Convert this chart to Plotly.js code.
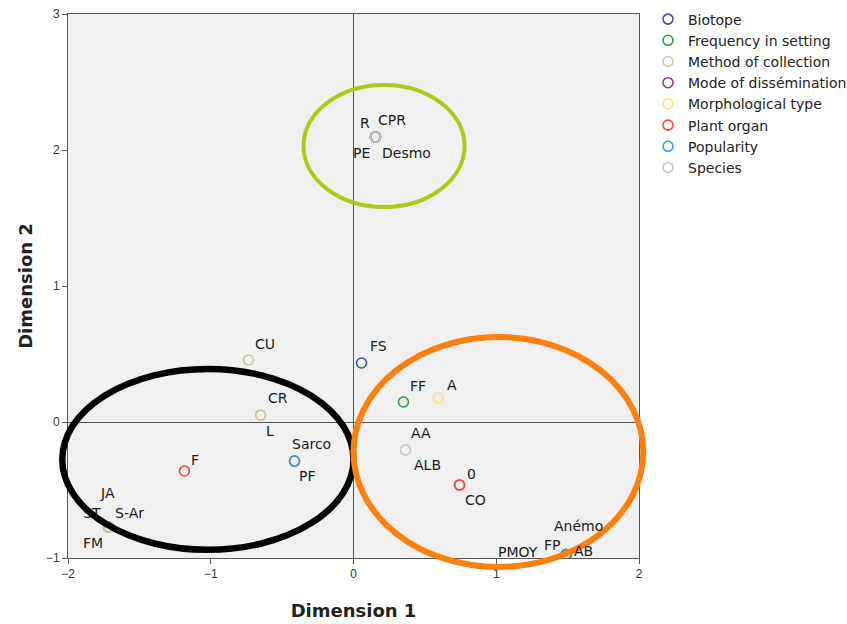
<!DOCTYPE html>
<html>
<head>
<meta charset="utf-8">
<script src="https://cdn.plot.ly/plotly-3.0.1.min.js"></script>
<style>html,body{margin:0;padding:0;background:#fff;}</style>
</head>
<body>
<div id="chart" style="width:847px;height:624px;"></div>
<script>
// ---- data ----
const groups = ["Biotope","Frequency in setting","Method of collection","Mode of dissémination","Morphological type","Plant organ","Popularity","Species"];
const labels = ["R","CPR","PE","Desmo","CU","CR","L","FS","FF","A","AA","ALB","Sarco","PF","F","0","CO","JA","ST","S-Ar","FM","Anémo","PMOY","FP","AB"];
const dim1   = [0.154,0.154,0.154,0.154,-0.735,-0.651,-0.651,0.056,0.35,0.595,0.364,0.364,-0.413,-0.413,-1.184,0.743,0.743,-1.716,-1.716,-1.716,-1.716,1.49,1.49,1.49,1.49];
const dim2   = [2.096,2.096,2.096,2.096,0.456,0.05,0.05,0.434,0.147,0.176,-0.206,-0.206,-0.287,-0.287,-0.36,-0.463,-0.463,-0.772,-0.772,-0.772,-0.772,-0.975,-0.975,-0.975,-0.975];
const labelGroup = ["Biotope","Species","Plant organ","Mode of dissémination","Method of collection","Method of collection","Method of collection","Biotope","Frequency in setting","Morphological type","Morphological type","Species","Mode of dissémination","Popularity","Plant organ","Plant organ","Plant organ","Frequency in setting","Biotope","Method of collection","Method of collection","Mode of dissémination","Popularity","Frequency in setting","Biotope"];

// ---- style ----
const groupColors = {"Biotope":"#3c50b4","Frequency in setting":"#22a046","Method of collection":"#d2c49c","Mode of dissémination":"#8c3c8c","Morphological type":"#f5e670","Plant organ":"#f04646","Popularity":"#2ea4cc","Species":"#c4c4c8"};
const labelDx = [-10,17,-14,31,16,17,9,17,15,14,16,22,17,13,11,12,16,-1,-17,21,-16,12,-48,-14,17];
const labelDy = [14,17,-16,-16,16,17,-16,17,16,13,17,-15,17,-15,11,11,-15,34,14,14,-16,29,3,10,4];
const font = "DejaVu Sans, Verdana, sans-serif";
const tickFont = "Liberation Sans, Arial, sans-serif";
const xr = [-2,2], yr = [-1,3];

const traces = groups.map(g => {
  const idx = labels.map((_, i) => i).filter(i => labelGroup[i] === g);
  return {
    type: "scatter", mode: "markers", name: g,
    x: idx.map(i => dim1[i]), y: idx.map(i => dim2[i]),
    marker: {symbol: "circle-open", size: 10, color: groupColors[g], line: {width: 1.6, color: groupColors[g]}},
    hoverinfo: "text", text: idx.map(i => labels[i])
  };
});

const annotations = labels.map((t, i) => ({
  x: dim1[i], y: dim2[i], xref: "x", yref: "y", text: t, showarrow: false,
  xshift: labelDx[i], yshift: labelDy[i],
  font: {family: font, size: 14, color: "#1a1a1a"}
}));

function px(v){ return (v - xr[0]) / (xr[1] - xr[0]); }
function py(v){ return (v - yr[0]) / (yr[1] - yr[0]); }
const ellipses = [
  {x0:-0.35, x1:0.778, y0:1.581, y1:2.478, color:"#a6cc14", w:4},
  {x0:-2.04, x1:0.0, y0:-0.94, y1:0.39, color:"#000000", w:6.5},
  {x0:0.0, x1:2.03, y0:-1.066, y1:0.625, color:"#ff7f0e", w:6}
];
const shapes = ellipses.map(e => ({
  type: "circle", xref: "paper", yref: "paper",
  x0: px(e.x0), x1: px(e.x1), y0: py(e.y0), y1: py(e.y1),
  line: {color: e.color, width: e.w}, layer: "above"
}));

const axisCommon = {
  showgrid: false, zeroline: true, zerolinecolor: "#555", zerolinewidth: 1,
  showline: true, linecolor: "#555", linewidth: 1, mirror: true,
  ticks: "outside", ticklen: 5, tickcolor: "#555", dtick: 1,
  tickfont: {family: tickFont, size: 12, color: "#333"}
};

const layout = {
  width: 847, height: 624,
  margin: {l: 68, r: 208, t: 14, b: 66},
  paper_bgcolor: "#ffffff", plot_bgcolor: "#f0f0f0",
  font: {family: font},
  xaxis: Object.assign({}, axisCommon, {range: xr, title: {text: "<b>Dimension 1</b>", font: {family: font, size: 18, color: "#222"}, standoff: 23}}),
  yaxis: Object.assign({}, axisCommon, {range: yr, title: {text: "<b>Dimension 2</b>", font: {family: font, size: 18, color: "#222"}, standoff: 8}}),
  showlegend: true,
  legend: {xref: "container", yref: "container", x: 648/847, y: 1 - 3.5/624, xanchor: "left", yanchor: "top",
           bgcolor: "rgba(0,0,0,0)", font: {family: font, size: 14, color: "#222"}, itemwidth: 30, tracegroupgap: 0},
  annotations: annotations, shapes: shapes
};

Plotly.newPlot("chart", traces, layout, {displayModeBar: false, staticPlot: true});
</script>
</body>
</html>
